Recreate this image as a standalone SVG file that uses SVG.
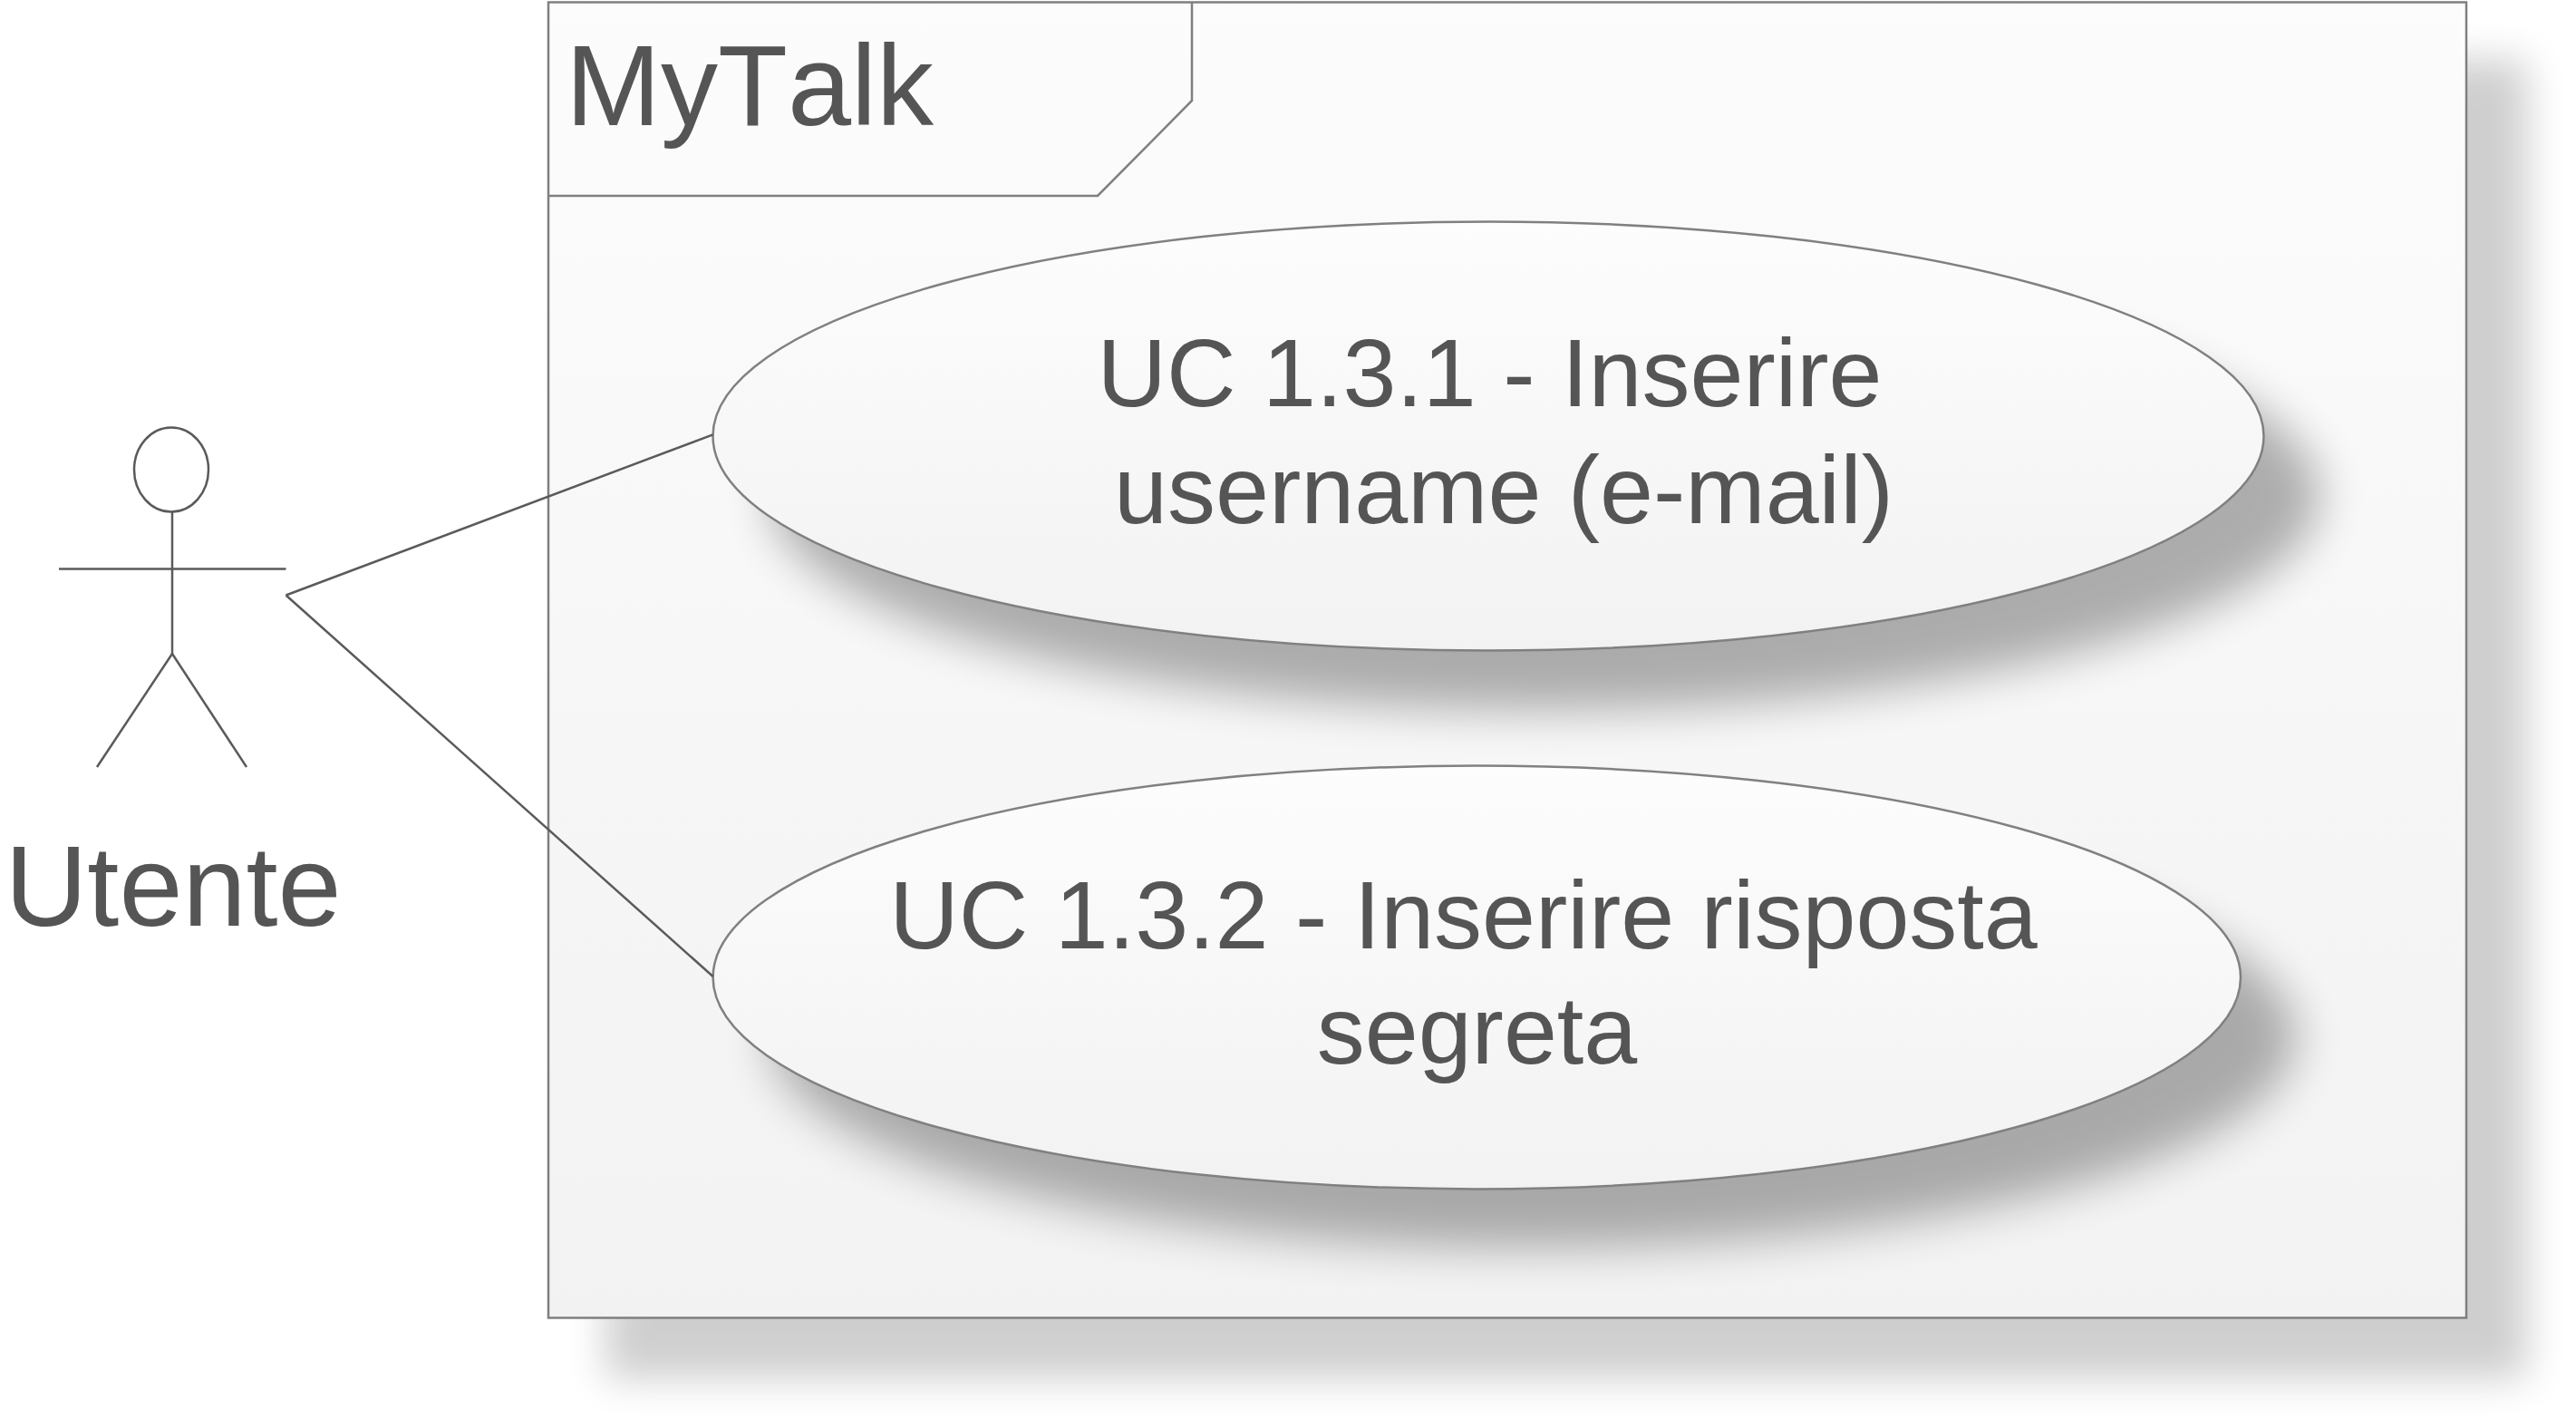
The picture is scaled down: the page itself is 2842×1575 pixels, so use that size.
<svg xmlns="http://www.w3.org/2000/svg" width="2842" height="1575" viewBox="0 0 2842 1575">
  <defs>
    <linearGradient id="gFrame" x1="0" y1="0" x2="0" y2="1">
      <stop offset="0" stop-color="#fcfcfc"/>
      <stop offset="1" stop-color="#f2f2f2"/>
    </linearGradient>
    <linearGradient id="gUC" x1="0" y1="0" x2="0" y2="1">
      <stop offset="0" stop-color="#fdfdfd"/>
      <stop offset="1" stop-color="#f2f2f2"/>
    </linearGradient>
    <filter id="fFrameShadow" x="-10%" y="-10%" width="120%" height="120%">
      <feGaussianBlur stdDeviation="22"/>
    </filter>
    <filter id="fUCShadow" x="-15%" y="-40%" width="130%" height="180%">
      <feGaussianBlur stdDeviation="25"/>
    </filter>
  </defs>
  <style>
    .frame { fill: url(#gFrame); stroke: #7f7f7f; stroke-width: 2.5; }
    .tab { fill: none; stroke: #7f7f7f; stroke-width: 2.5; }
    .uc { fill: url(#gUC); stroke: #808080; stroke-width: 2.5; }
    .shadowFrame { fill: #000; opacity: 0.19; filter: url(#fFrameShadow); }
    .shadowUC { fill: #000; opacity: 0.3; filter: url(#fUCShadow); }
    .actor { fill: none; stroke: #5a5a5a; stroke-width: 2.5; }
    .conn { fill: none; stroke: #5a5a5a; stroke-width: 2.5; }
    .label { font-family: "Liberation Sans", Arial, sans-serif; fill: #555555; font-kerning: none; }
    .title { font-size: 126px; }
    .ucText { font-size: 106px; text-anchor: middle; }
    .actorText { font-size: 126px; text-anchor: middle; }
  </style>
  <rect width="2842" height="1575" fill="#ffffff"/>

  <g id="system-mytalk">
    <rect class="shadowFrame" x="668" y="66" width="2120" height="1455"/>
    <rect class="frame" x="605" y="2.5" width="2116" height="1451"/>
    <path class="tab" d="M605,216 L1211,216 L1315,111 L1315,2.5"/>
    <text class="label title" x="624" y="138">MyTalk</text>
  </g>

  <g id="uc-1-3-1">
    <ellipse class="shadowUC" cx="1704" cy="546" rx="855" ry="237"/>
    <ellipse class="uc" cx="1642" cy="481" rx="855.5" ry="236.5"/>
    <text class="label ucText" x="1643.5" y="448">UC 1.3.1 - Inserire</text>
    <text class="label ucText" x="1659" y="577">username (e-mail)</text>
  </g>

  <g id="uc-1-3-2">
    <ellipse class="shadowUC" cx="1691" cy="1143" rx="842" ry="233"/>
    <ellipse class="uc" cx="1629.3" cy="1078" rx="842.7" ry="233.4"/>
    <text class="label ucText" x="1614.5" y="1045.7">UC 1.3.2 - Inserire risposta</text>
    <text class="label ucText" x="1629.5" y="1173.3">segreta</text>
  </g>

  <g id="actor-utente">
    <ellipse class="actor" cx="189" cy="518" rx="41" ry="46.5"/>
    <line class="actor" x1="190" y1="564.5" x2="190" y2="721"/>
    <line class="actor" x1="65" y1="627.5" x2="315.5" y2="627.5"/>
    <line class="actor" x1="190" y1="721" x2="107" y2="846"/>
    <line class="actor" x1="190" y1="721" x2="272" y2="846"/>
    <text class="label actorText" x="191" y="1020.5">Utente</text>
  </g>

  <g id="connectors">
    <line class="conn" x1="315.5" y1="656.5" x2="786.6" y2="479.3"/>
    <line class="conn" x1="315.5" y1="656.5" x2="786.6" y2="1077"/>
  </g>
</svg>
